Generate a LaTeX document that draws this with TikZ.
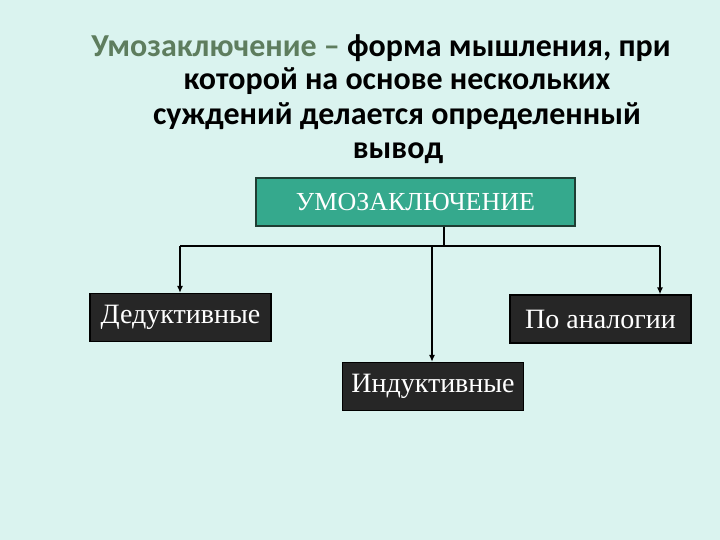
\documentclass[tikz,border=0pt]{standalone}
\usepackage{fontspec}
\setmainfont{Liberation Serif}
\newfontfamily\titlefont{Carlito}
\usepackage{xcolor}
\usetikzlibrary{arrows.meta, positioning, calc}

\definecolor{slidebg}{HTML}{DAF3EF}
\definecolor{headfill}{HTML}{35A98D}
\definecolor{headline}{HTML}{1F3D33}
\definecolor{kindfill}{HTML}{262626}
\definecolor{termgreen}{HTML}{5E7D5E}

\begin{document}
\begin{tikzpicture}[
  x=1pt, y=-1pt,
  >={Latex[length=7pt,width=6pt]},
  ttl/.style={font=\titlefont\bfseries\fontsize{32}{38}\selectfont, anchor=base, inner sep=0pt},
  head/.style={rectangle, draw=headline, line width=1.2pt, fill=headfill, text=white,
    minimum width=319pt, minimum height=48pt, font=\fontsize{26}{30}\selectfont},
  kind/.style={rectangle, draw=black, line width=1.2pt, fill=kindfill, text=white,
    minimum width=181pt, minimum height=48pt, font=\fontsize{28}{32}\selectfont}
]
  \fill[slidebg] (0,0) rectangle (720,540);
  \useasboundingbox (0,0) rectangle (720,540);

  % title
  \node[ttl] (t1) at (381,57) {\textcolor{termgreen}{Умозаключение –} форма мышления, при};
  \node[ttl] (t2) at (397,90) {которой на основе нескольких};
  \node[ttl] (t3) at (397,125) {суждений делается определенный};
  \node[ttl] (t4) at (398,159) {вывод};

  % boxes
  \node[head] (head) at (415.5,202) {УМОЗАКЛЮЧЕНИЕ};
  \node[kind] (ded) at (180.5,317.5) {Дедуктивные};
  \node[kind] (ind) at (433,386.5) {Индуктивные};
  \node[kind] (ana) at (600.5,319) {По аналогии};

  \coordinate (hub) at (444,246);
  \coordinate (lt) at (180,246);
  \coordinate (mid) at (432,246);
  \coordinate (rt) at (660,246);

  \draw[line width=1.5pt] (head.south -| hub) -- (hub);
  \draw[line width=1.5pt] (lt) -- (rt);
  \draw[->, line width=1.5pt] (lt) -- (lt |- ded.north);
  \draw[->, line width=1.5pt] (mid) -- (mid |- ind.north);
  \draw[->, line width=1.5pt] (rt) -- (rt |- ana.north);
\end{tikzpicture}
\end{document}
